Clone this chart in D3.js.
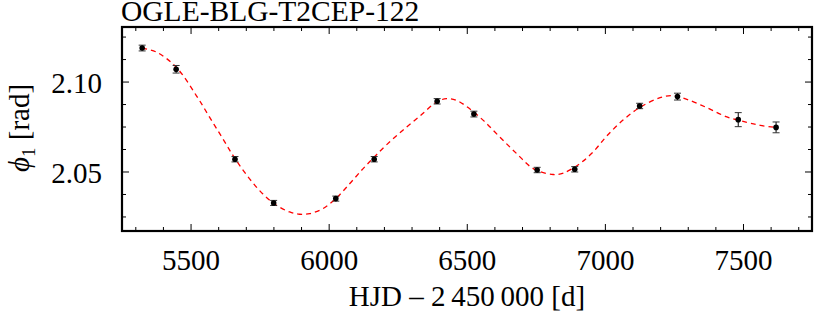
<!DOCTYPE html>
<html>
<head>
<meta charset="utf-8">
<script src="https://cdn.jsdelivr.net/npm/d3@7"></script>
<style>
  body { margin: 0; background: #fff; }
  svg text { font-family: "Liberation Serif", "DejaVu Serif", serif; fill: #000; }
</style>
</head>
<body>
<svg width="830" height="318"></svg>
<script>
// observed phases (HJD - 2450000, phi1, error)
var obsTime  = [5323, 5446, 5659, 5799, 6024, 6163, 6391, 6524, 6753, 6889, 7124, 7261, 7481, 7618];
var obsPhase = [2.1189, 2.1071, 2.0571, 2.0328, 2.0352, 2.0571, 2.0893, 2.0822, 2.0511, 2.0515, 2.0867, 2.0919, 2.0791, 2.0748];
var obsErr   = [0.0016, 0.0021, 0.0015, 0.0014, 0.0014, 0.0015, 0.0015, 0.0016, 0.0015, 0.0015, 0.0015, 0.0019, 0.0039, 0.0030];

// fitted model
var fitTime  = [5323, 5374, 5446, 5519, 5567, 5615, 5659, 5712, 5760, 5809, 5857, 5893, 5930, 5978, 6024,
                6075, 6123, 6163, 6207, 6268, 6328, 6389, 6425, 6461, 6503, 6558, 6618, 6679, 6739, 6811,
                6848, 6908, 6956, 7005, 7065, 7126, 7198, 7246, 7295, 7367, 7440, 7512, 7561, 7621];
var fitPhase = [2.1189, 2.1167, 2.1083, 2.0925, 2.0805, 2.0685, 2.0575, 2.0462, 2.0378, 2.0315, 2.0278, 2.0265, 2.0269, 2.0297, 2.0352,
                2.0436, 2.0519, 2.0583, 2.0650, 2.0734, 2.0810, 2.0889, 2.0908, 2.0898, 2.0858, 2.0787, 2.0694, 2.0602, 2.0519, 2.0486,
                2.0494, 2.0547, 2.0612, 2.0700, 2.0790, 2.0860, 2.0913, 2.0924, 2.0904, 2.0858, 2.0806, 2.0776, 2.0759, 2.0747];

var xMajor = [5500, 6000, 6500, 7000, 7500];
var xMinor = [5300, 5400, 5600, 5700, 5800, 5900, 6100, 6200, 6300, 6400, 6600, 6700, 6800, 6900,
              7100, 7200, 7300, 7400, 7600, 7700];
var yMajor = [2.05, 2.10];
var yMinor = [2.025, 2.0375, 2.0625, 2.075, 2.0875, 2.1125, 2.125];

var svg = d3.select("svg");
var pLeft = 122, pRight = 812, pTop = 27, pBottom = 231;

var x = d3.scaleLinear().domain([5250, 7748]).range([pLeft, pRight]);
var y = d3.scaleLinear().domain([2.0172, 2.1306]).range([pBottom, pTop]);

var g = svg.append("g");

// ticks on all four sides, pointing inward
function xticks(vals, len) {
  vals.forEach(function (v) {
    g.append("line").attr("x1", x(v)).attr("x2", x(v)).attr("y1", pBottom).attr("y2", pBottom - len)
      .attr("stroke", "#000").attr("stroke-width", 1);
    g.append("line").attr("x1", x(v)).attr("x2", x(v)).attr("y1", pTop).attr("y2", pTop + len)
      .attr("stroke", "#000").attr("stroke-width", 1);
  });
}
function yticks(vals, len) {
  vals.forEach(function (v) {
    g.append("line").attr("x1", pLeft).attr("x2", pLeft + len).attr("y1", y(v)).attr("y2", y(v))
      .attr("stroke", "#000").attr("stroke-width", 1);
    g.append("line").attr("x1", pRight).attr("x2", pRight - len).attr("y1", y(v)).attr("y2", y(v))
      .attr("stroke", "#000").attr("stroke-width", 1);
  });
}
xticks(xMinor, 4);
xticks(xMajor, 7);
yticks(yMinor, 4);
yticks(yMajor, 7);

// fit curve
var line = d3.line()
  .x(function (d) { return x(d[0]); })
  .y(function (d) { return y(d[1]); })
  .curve(d3.curveCatmullRom.alpha(0.5));

g.append("path")
  .datum(fitTime.map(function (t, i) { return [t, fitPhase[i]]; }))
  .attr("d", line)
  .attr("fill", "none")
  .attr("stroke", "#ff0000")
  .attr("stroke-width", 1.3)
  .attr("stroke-dasharray", "5,4");

// data with error bars
var pts = obsTime.map(function (t, i) { return { t: t, v: obsPhase[i], e: obsErr[i] }; });
var pg = g.selectAll(".pt").data(pts).enter().append("g").attr("class", "pt");
pg.append("line")
  .attr("x1", function (d) { return x(d.t); }).attr("x2", function (d) { return x(d.t); })
  .attr("y1", function (d) { return y(d.v - d.e); }).attr("y2", function (d) { return y(d.v + d.e); })
  .attr("stroke", "#000").attr("stroke-width", 1);
[-1, 1].forEach(function (s) {
  pg.append("line")
    .attr("x1", function (d) { return x(d.t) - 3.5; }).attr("x2", function (d) { return x(d.t) + 3.5; })
    .attr("y1", function (d) { return y(d.v + s * d.e); }).attr("y2", function (d) { return y(d.v + s * d.e); })
    .attr("stroke", "#333").attr("stroke-width", 1);
});
pg.append("circle")
  .attr("cx", function (d) { return x(d.t); })
  .attr("cy", function (d) { return y(d.v); })
  .attr("r", 2.8)
  .attr("fill", "#000");

// frame
g.append("rect")
  .attr("x", pLeft).attr("y", pTop).attr("width", pRight - pLeft).attr("height", pBottom - pTop)
  .attr("fill", "none").attr("stroke", "#000").attr("stroke-width", 2.2);

// tick labels
g.selectAll(".xl").data(xMajor).enter().append("text")
  .attr("x", function (d) { return x(d); })
  .attr("y", 270)
  .attr("text-anchor", "middle")
  .attr("font-size", 29)
  .text(function (d) { return d; });

g.selectAll(".yl").data(yMajor).enter().append("text")
  .attr("x", 102)
  .attr("y", function (d) { return y(d) + 11; })
  .attr("text-anchor", "end")
  .attr("font-size", 29)
  .text(function (d) { return d.toFixed(2); });

// axis titles
g.append("text")
  .attr("x", 467).attr("y", 306)
  .attr("text-anchor", "middle")
  .attr("font-size", 29)
  .text("HJD \u2013 2\u2009450\u2009000 [d]");

var yl = g.append("text")
  .attr("transform", "translate(29,128) rotate(-90)")
  .attr("text-anchor", "middle")
  .attr("font-size", 29);
yl.append("tspan").attr("font-style", "italic").text("\u03d5");
yl.append("tspan").attr("font-size", 19).attr("dy", 6).text("1");
yl.append("tspan").attr("dy", -6).text(" [rad]");

// title
g.append("text")
  .attr("x", 121).attr("y", 21)
  .attr("font-size", 29.5)
  .text("OGLE-BLG-T2CEP-122");
</script>
</body>
</html>
